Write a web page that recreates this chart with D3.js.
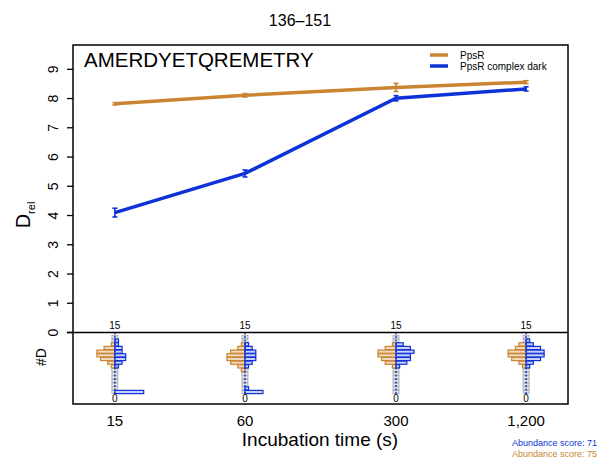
<!DOCTYPE html>
<html>
<head>
<style type="text/css">
body { margin: 0; background: #fff; }
text { font-family: Arial, "Liberation Sans", sans-serif; }
.series { fill: none; stroke-width: 3.5; }
</style>
<script src="https://d3js.org/d3.v7.min.js"></script>
</head>
<body>
<script type="text/javascript">
var width = 600;
var height = 459;

// data
var times = [15, 60, 300, 1200];
var timeLabels = ["15", "60", "300", "1,200"];
var orangeVals = [7.82, 8.11, 8.38, 8.56];
var orangeErr = [0.04, 0.06, 0.14, 0.05];
var blueVals = [4.10, 5.44, 8.01, 8.33];
var blueErr = [0.15, 0.12, 0.09, 0.07];
var yTicks = [0, 1, 2, 3, 4, 5, 6, 7, 8, 9];
// #D histograms, counts for D = 0..15
var orangeHist = [
	[0,0,0,0,0,0,0,1,2,4,5,5,3,1,0,0],
	[0,0,0,0,0,0,1,2,4,5,5,4,2,1,0,0],
	[0,0,0,0,0,0,0,1,3,4,5,5,3,1,0,0],
	[0,0,0,0,0,0,0,1,2,4,5,5,3,2,0,0]
];
var blueHist = [
	[8,0,0,0,0,0,0,1,2,3,3,2,2,1,1,0],
	[5,1,0,0,0,0,0,1,2,3,3,3,2,1,0,0],
	[0,0,0,0,0,0,0,1,3,4,4,5,4,2,0,0],
	[0,0,0,0,0,0,0,1,2,4,5,5,4,2,1,0]
];
var orange = "#c98532";
var blue = "#0f32d8";

var left = 73, right = 568, plotTop = 45, zeroY = 332.5, bottom = 404;

var svg = d3.select("body").append("svg").attr("width", width).attr("height", height);

var x = d3.scaleLog().domain([9.6, 1875]).range([left, right]);
var y = d3.scaleLinear().domain([0, 9]).range([zeroY, 69.3]);
var yh = d3.scaleLinear().domain([0, 15]).range([392, 337]);
var hw = 3.6; // px per count

// title
svg.append("text").attr("x", 300).attr("y", 26).attr("text-anchor", "middle")
	.style("font-size", "16px").text("136\u2013151");

// y axis ticks and rotated labels
svg.selectAll(".ytick").data(yTicks).enter().append("line")
	.attr("x1", left - 6).attr("x2", left)
	.attr("y1", function(d){ return y(d); }).attr("y2", function(d){ return y(d); })
	.attr("stroke", "#000").attr("stroke-width", 1.3);
svg.selectAll(".ylab").data(yTicks).enter().append("text")
	.attr("transform", function(d){ return "translate(58," + y(d) + ") rotate(-90)"; })
	.attr("text-anchor", "middle").style("font-size", "14px").text(function(d){ return d; });

var yl = svg.append("text").attr("transform", "translate(30,215) rotate(-90)")
	.attr("text-anchor", "middle").style("font-size", "20px");
yl.append("tspan").text("D");
yl.append("tspan").attr("dy", 5).style("font-size", "11px").text("rel");

svg.append("text").attr("transform", "translate(46,357) rotate(-90)")
	.attr("text-anchor", "middle").style("font-size", "14px").text("#D");

// histograms
times.forEach(function(t, i) {
	var cx = x(t);
	var g = svg.append("g");
	var bins = d3.range(16);
	// grey ladder
	g.selectAll(".grey").data(bins).enter().append("rect")
		.attr("x", cx - 3).attr("width", 6)
		.attr("y", function(d){ return yh(d) - 1.6; }).attr("height", 3.2)
		.attr("fill", "#e4e4e4").attr("stroke", "#a8a8a8").attr("stroke-width", 0.8);
	bins.forEach(function(b) {
		var o = orangeHist[i][b], bl = blueHist[i][b];
		if (o > 0) g.append("rect").attr("x", cx - o * hw).attr("width", o * hw)
			.attr("y", yh(b) - 1.6).attr("height", 3.2)
			.attr("fill", "#f0d9bc").attr("stroke", orange).attr("stroke-width", 1.2);
		if (bl > 0) g.append("rect").attr("x", cx).attr("width", bl * hw)
			.attr("y", yh(b) - 1.6).attr("height", 3.2)
			.attr("fill", "#c9d2f5").attr("stroke", blue).attr("stroke-width", 1.2);
	});
	g.append("line").attr("x1", cx).attr("x2", cx).attr("y1", zeroY).attr("y2", yh(0) + 2)
		.attr("stroke", blue).attr("stroke-width", 1.4).attr("stroke-dasharray", "2,1.5");
	svg.append("text").attr("x", cx).attr("y", 329).attr("text-anchor", "middle")
		.style("font-size", "10px").text("15");
	svg.append("text").attr("x", cx).attr("y", 402).attr("text-anchor", "middle")
		.style("font-size", "10px").text("0");
});

// frame
svg.append("rect").attr("x", left).attr("y", plotTop).attr("width", right - left).attr("height", bottom - plotTop)
	.attr("fill", "none").attr("stroke", "#000").attr("stroke-width", 1.5);
svg.append("line").attr("x1", left - 6).attr("x2", right).attr("y1", zeroY).attr("y2", zeroY)
	.attr("stroke", "#000").attr("stroke-width", 1.5);

// lines
var line = d3.line().x(function(d, i){ return x(times[i]); }).y(function(d){ return y(d); });
function drawSeries(vals, errs, col) {
	svg.append("path").datum(vals).attr("class", "series").attr("stroke", col).attr("d", line);
	var eb = svg.append("g").attr("stroke", col).attr("stroke-width", 1.6);
	vals.forEach(function(v, i) {
		var cx = x(times[i]);
		eb.append("line").attr("x1", cx).attr("x2", cx).attr("y1", y(v - errs[i])).attr("y2", y(v + errs[i]));
		eb.append("line").attr("x1", cx - 2.5).attr("x2", cx + 2.5).attr("y1", y(v - errs[i])).attr("y2", y(v - errs[i]));
		eb.append("line").attr("x1", cx - 2.5).attr("x2", cx + 2.5).attr("y1", y(v + errs[i])).attr("y2", y(v + errs[i]));
	});
}
drawSeries(orangeVals, orangeErr, orange);
drawSeries(blueVals, blueErr, blue);

// sequence
svg.append("text").attr("x", 84).attr("y", 67).style("font-size", "20.5px").text("AMERDYETQREMETRY");

// legend
var legend = [["PpsR", orange], ["PpsR complex dark", blue]];
legend.forEach(function(l, i) {
	var ly = 55 + i * 11;
	svg.append("line").attr("x1", 430).attr("x2", 448).attr("y1", ly).attr("y2", ly)
		.attr("stroke", l[1]).attr("stroke-width", 3.5);
	svg.append("text").attr("x", 460).attr("y", ly + 3.5).style("font-size", "10px").text(l[0]);
});

// x axis labels
svg.selectAll(".xlab").data(times).enter().append("text")
	.attr("x", function(d){ return x(d); }).attr("y", 426).attr("text-anchor", "middle")
	.style("font-size", "15px").text(function(d, i){ return timeLabels[i]; });
svg.append("text").attr("x", 320).attr("y", 446).attr("text-anchor", "middle")
	.style("font-size", "19px").text("Incubation time (s)");

svg.append("text").attr("x", 597).attr("y", 446).attr("text-anchor", "end")
	.style("font-size", "9px").attr("fill", blue).text("Abundance score: 71");
svg.append("text").attr("x", 597).attr("y", 457).attr("text-anchor", "end")
	.style("font-size", "9px").attr("fill", orange).text("Abundance score: 75");
</script>
</body>
</html>
